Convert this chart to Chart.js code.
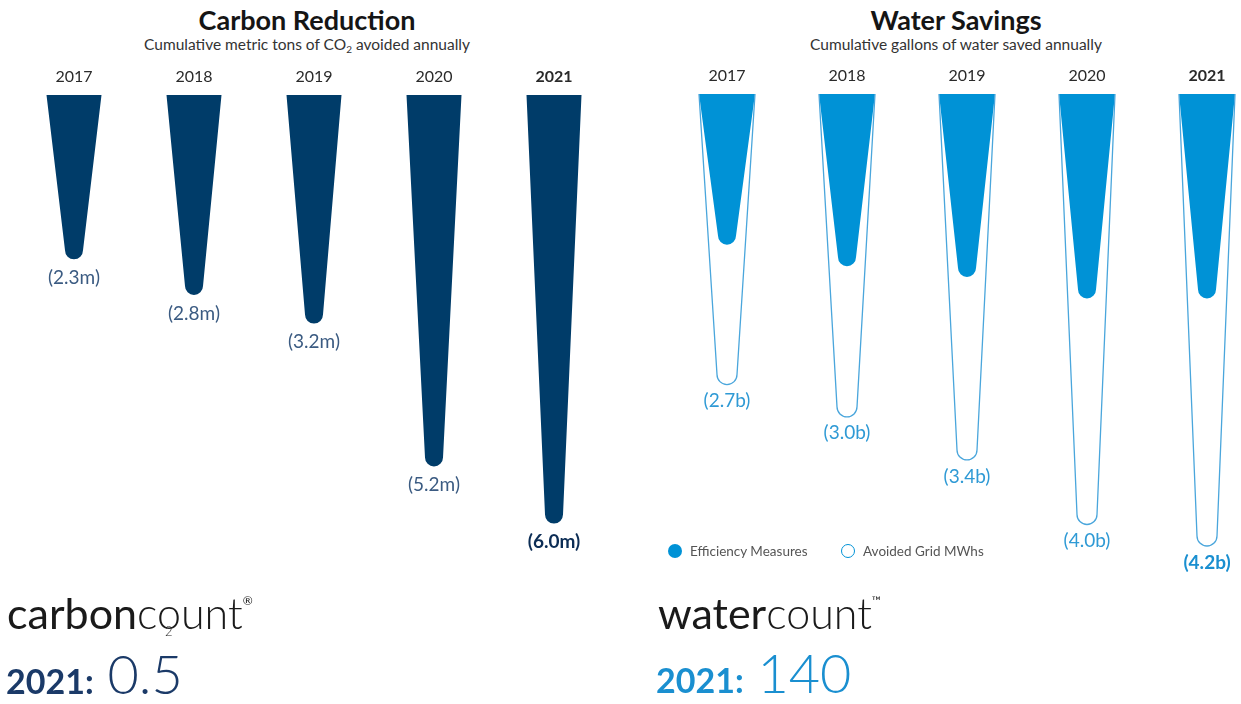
<!DOCTYPE html>
<html>
<head>
<meta charset="utf-8">
<script src="https://cdn.jsdelivr.net/npm/chart.js@4.4.0/dist/chart.umd.min.js"></script>
<style>
  body { margin: 0; background: #fff; font-family: Lato, "Open Sans", sans-serif; }
  #wrap { position: relative; width: 1241px; height: 704px; overflow: hidden; }
  canvas { position: absolute; top: 0; }
  .title { position: absolute; width: 500px; text-align: center; font-weight: 700; font-size: 27px; line-height: 1.2; color: #151515; }
  .sub { position: absolute; width: 500px; text-align: center; font-size: 15.5px; line-height: 1.2; color: #333; }
  .sub sub { font-size: 10px; vertical-align: -3px; }
  .legend { position: absolute; top: 543px; font-size: 13.5px; color: #555; line-height: 16px; }
  .legend span.dot { display: inline-block; width: 14px; height: 14px; border-radius: 50%; box-sizing: border-box; vertical-align: -2px; margin-right: 8px; }
  .brand { position: absolute; font-size: 43px; line-height: 1.2; color: #1a1a1a; white-space: nowrap; }
  .brand .lt { font-weight: 300; }
  .brand sup { font-size: 12px; vertical-align: 24px; font-weight: 400; }
  .score { position: absolute; font-size: 54px; line-height: 1.2; white-space: nowrap; }
  .score b { font-size: 34px; font-weight: 700; }
  .score span { font-weight: 300; }
</style>
</head>
<body>
<div id="wrap">
  <div class="title" style="left:57px; top:4px;">Carbon Reduction</div>
  <div class="sub" style="left:57px; top:35px;">Cumulative metric tons of CO<sub>2</sub> avoided annually</div>
  <div class="title" style="left:706px; top:4px;">Water Savings</div>
  <div class="sub" style="left:706px; top:35px;">Cumulative gallons of water saved annually</div>

  <canvas id="carbon" width="620" height="590" style="left:0"></canvas>
  <canvas id="water" width="621" height="590" style="left:620px"></canvas>

  <div class="legend" style="left:668px;"><span class="dot" style="background:#0092d6"></span>Efficiency Measures</div>
  <div class="legend" style="left:841px;"><span class="dot" style="border:1.5px solid #0092d6"></span>Avoided Grid MWhs</div>

  <div class="brand" style="left:7px; top:587px;">carbon<span class="lt">c<span style="position:relative">o<span style="position:absolute;left:8px;top:38px;font-size:13px;line-height:1">2</span></span>unt</span><sup>®</sup></div>
  <div class="score" style="left:6px; top:642px; color:#1b3a68;"><b>2021:</b> <span>0.5</span></div>

  <div class="brand" style="left:658px; top:587px;">water<span class="lt">count</span><sup>™</sup></div>
  <div class="score" style="left:656px; top:641px; color:#1a8fd0;"><b>2021:</b> <span>140</span></div>
</div>

<script>
// years along the top
const years = ['2017', '2018', '2019', '2020', '2021'];

// carbon avoided, million metric tons
const carbonTons = [2.3, 2.8, 3.2, 5.2, 6.0];

// water saved, billion gallons
const waterTotal = [2.7, 3.0, 3.4, 4.0, 4.2];
const waterEfficiency = [1.4, 1.6, 1.7, 1.9, 1.9];

Chart.defaults.font.family = 'Lato, "Open Sans", sans-serif';

// tapered bar: full width at the base, narrowing to a rounded tip at the value
function taperPath(ctx, el, tip, closed) {
  const {x, y, base, width} = el.getProps(['x', 'y', 'base', 'width'], true);
  const h = width / 2;
  ctx.beginPath();
  ctx.moveTo(x + h, base);
  ctx.lineTo(x + tip, y - tip);
  ctx.arc(x, y - tip, tip, 0, Math.PI);
  ctx.lineTo(x - h, base);
  if (closed) ctx.closePath();
}

const taperBars = {
  id: 'taperBars',
  beforeDatasetDraw(chart, args) {
    const ds = chart.data.datasets[args.index];
    const ctx = chart.ctx;
    ctx.save();
    args.meta.data.forEach(el => {
      taperPath(ctx, el, ds.tipRadius, ds.solid);
      if (ds.solid) {
        ctx.fillStyle = ds.backgroundColor;
        ctx.fill();
      } else {
        ctx.lineWidth = ds.borderWidth;
        ctx.strokeStyle = ds.borderColor;
        ctx.stroke();
      }
    });
    ctx.restore();
    return false;
  }
};

// "(2.3m)" style labels under each tip
const tipLabels = {
  id: 'tipLabels',
  afterDatasetsDraw(chart) {
    const ctx = chart.ctx;
    chart.data.datasets.forEach((ds, i) => {
      if (!ds.unit) return;
      const meta = chart.getDatasetMeta(i);
      meta.data.forEach((el, j) => {
        const last = j === ds.data.length - 1;
        ctx.save();
        ctx.font = (last ? '700 ' : '400 ') + '19px Lato, sans-serif';
        ctx.fillStyle = last ? ds.lastLabelColor : ds.labelColor;
        ctx.textAlign = 'center';
        ctx.textBaseline = 'top';
        ctx.fillText('(' + ds.data[j].toFixed(1) + ds.unit + ')', el.x, el.y + ds.labelGap);
        ctx.restore();
      });
    });
  }
};

function options(padLeft, padRight, padTop, yMax) {
  return {
    responsive: false,
    animation: false,
    events: [],
    layout: { padding: { left: padLeft, right: padRight, top: padTop, bottom: 30 } },
    plugins: { legend: { display: false }, tooltip: { enabled: false } },
    scales: {
      x: {
        position: 'top',
        offset: false,
        grid: { display: false, drawTicks: false },
        border: { display: false },
        afterFit(scale) { scale.height = 35; },
        ticks: {
          padding: 9,
          color: '#2a2a2a',
          maxRotation: 0,
          autoSkip: false,
          font: ctx => ({ size: 16, weight: ctx.index === years.length - 1 ? '700' : '400' })
        }
      },
      y: { display: false, reverse: true, min: 0, max: yMax }
    }
  };
}

new Chart(document.getElementById('carbon'), {
  type: 'bar',
  data: {
    labels: years,
    datasets: [{
      label: 'Carbon Reduction',
      data: carbonTons,
      backgroundColor: '#003c69',
      barThickness: 55,
      solid: true,
      tipRadius: 9,
      unit: 'm',
      labelGap: 9,
      labelColor: '#3b5b82',
      lastLabelColor: '#0c2d55',
      clip: false
    }]
  },
  options: options(74, 66, 60, 6.51),
  plugins: [taperBars, tipLabels]
});

new Chart(document.getElementById('water'), {
  type: 'bar',
  data: {
    labels: years,
    datasets: [{
      label: 'Avoided Grid MWhs',
      data: waterTotal,
      borderColor: '#4aa6dc',
      borderWidth: 1.3,
      barThickness: 56,
      grouped: false,
      solid: false,
      tipRadius: 10,
      unit: 'b',
      labelGap: 7,
      labelColor: '#2f9ad5',
      lastLabelColor: '#1a8fd0',
      clip: false
    }, {
      label: 'Efficiency Measures',
      data: waterEfficiency,
      backgroundColor: '#0092d6',
      barThickness: 56,
      grouped: false,
      solid: true,
      tipRadius: 9,
      clip: false
    }]
  },
  options: options(107, 34, 59, 4.33),
  plugins: [taperBars, tipLabels]
});
</script>
</body>
</html>
